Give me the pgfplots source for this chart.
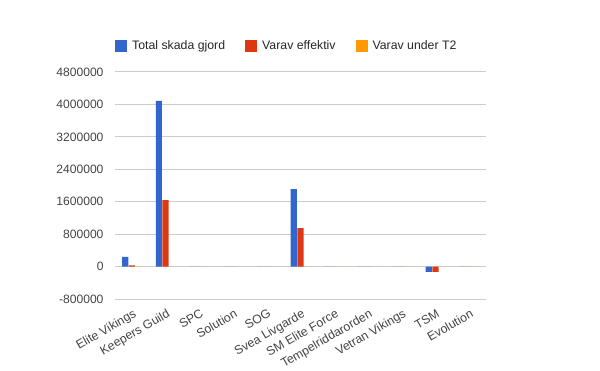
\documentclass[border=0pt]{standalone}
\usepackage{pgfplots}
\pgfplotsset{compat=1.18}
\usepackage{fontspec}
\setmainfont{Liberation Sans}
\definecolor{cblue}{HTML}{3366CC}
\definecolor{cred}{HTML}{DC3912}
\definecolor{corange}{HTML}{FF9900}
\definecolor{ctext}{HTML}{444444}
\definecolor{cgrid}{HTML}{CCCCCC}
\definecolor{czero}{HTML}{333333}
\begin{document}
\begin{tikzpicture}
\useasboundingbox (0,0) rectangle (600bp,371bp);
\begin{axis}[
  at={(115bp,72bp)}, anchor=south west,
  scale only axis, width=371bp, height=227bp,
  xmin=-0.5, xmax=10.5, ymin=-800000, ymax=4800000,
  ytick={-800000,0,800000,1600000,2400000,3200000,4000000,4800000},
  scaled y ticks=false,
  yticklabel style={/pgf/number format/fixed, /pgf/number format/1000 sep={}, /pgf/number format/assume math mode=true, font=\fontsize{12.1bp}{14bp}\selectfont, text=ctext, xshift=-8bp},
  xtick={0,...,10},
  xticklabels={Elite Vikings, Keepers Guild, SPC, Solution, SOG, Svea Livgarde, SM Elite Force, Tempelriddarorden, Vetran Vikings, TSM, Evolution},
  xticklabel style={xshift=1bp, yshift=-8bp, rotate=30, anchor=north east, font=\fontsize{12.3bp}{14bp}\selectfont, text=ctext, inner sep=1bp},
  axis line style={draw=none},
  major tick style={draw=none},
  ymajorgrids, major grid style={draw=cgrid, line width=1bp},
  extra y ticks={0}, extra y tick labels={},
  extra y tick style={grid style={draw=czero, line width=1.3bp}},
  legend columns=3,
  legend style={at={(0,1.1145)}, anchor=west, draw=none, fill=none, inner sep=0pt,
    font=\fontsize{12.3bp}{14bp}\selectfont, text=black!85,
    column sep=0bp, /tikz/every even column/.append style={column sep=20bp},
    nodes={inner sep=0pt}},
]
\addplot[ybar, bar width=6.2bp, bar shift=-6.7bp, fill=cblue, draw=none,
  legend image code/.code={\fill[cblue] (0bp,-6bp) rectangle (12bp,6bp); \path (17bp,0bp);}]
  coordinates {(0,237000) (1,4087000) (2,0) (3,0) (4,0) (5,1910000) (6,0) (7,0) (8,0) (9,-133000) (10,0)};
\addlegendentry{Total skada gjord}
\addplot[ybar, bar width=6.2bp, bar shift=0bp, fill=cred, draw=none,
  legend image code/.code={\fill[cred] (0bp,-6bp) rectangle (12bp,6bp); \path (17bp,0bp);}]
  coordinates {(0,30000) (1,1640000) (2,0) (3,0) (4,0) (5,946000) (6,0) (7,0) (8,0) (9,-133000) (10,0)};
\addlegendentry{Varav effektiv}
\addplot[ybar, bar width=6.2bp, bar shift=6.7bp, fill=corange, draw=none,
  legend image code/.code={\fill[corange] (0bp,-6bp) rectangle (12bp,6bp); \path (17bp,0bp);}]
  coordinates {(0,0) (1,0) (2,0) (3,0) (4,0) (5,0) (6,0) (7,0) (8,0) (9,0) (10,0)};
\addlegendentry{Varav under T2}
\end{axis}
\end{tikzpicture}
\end{document}
